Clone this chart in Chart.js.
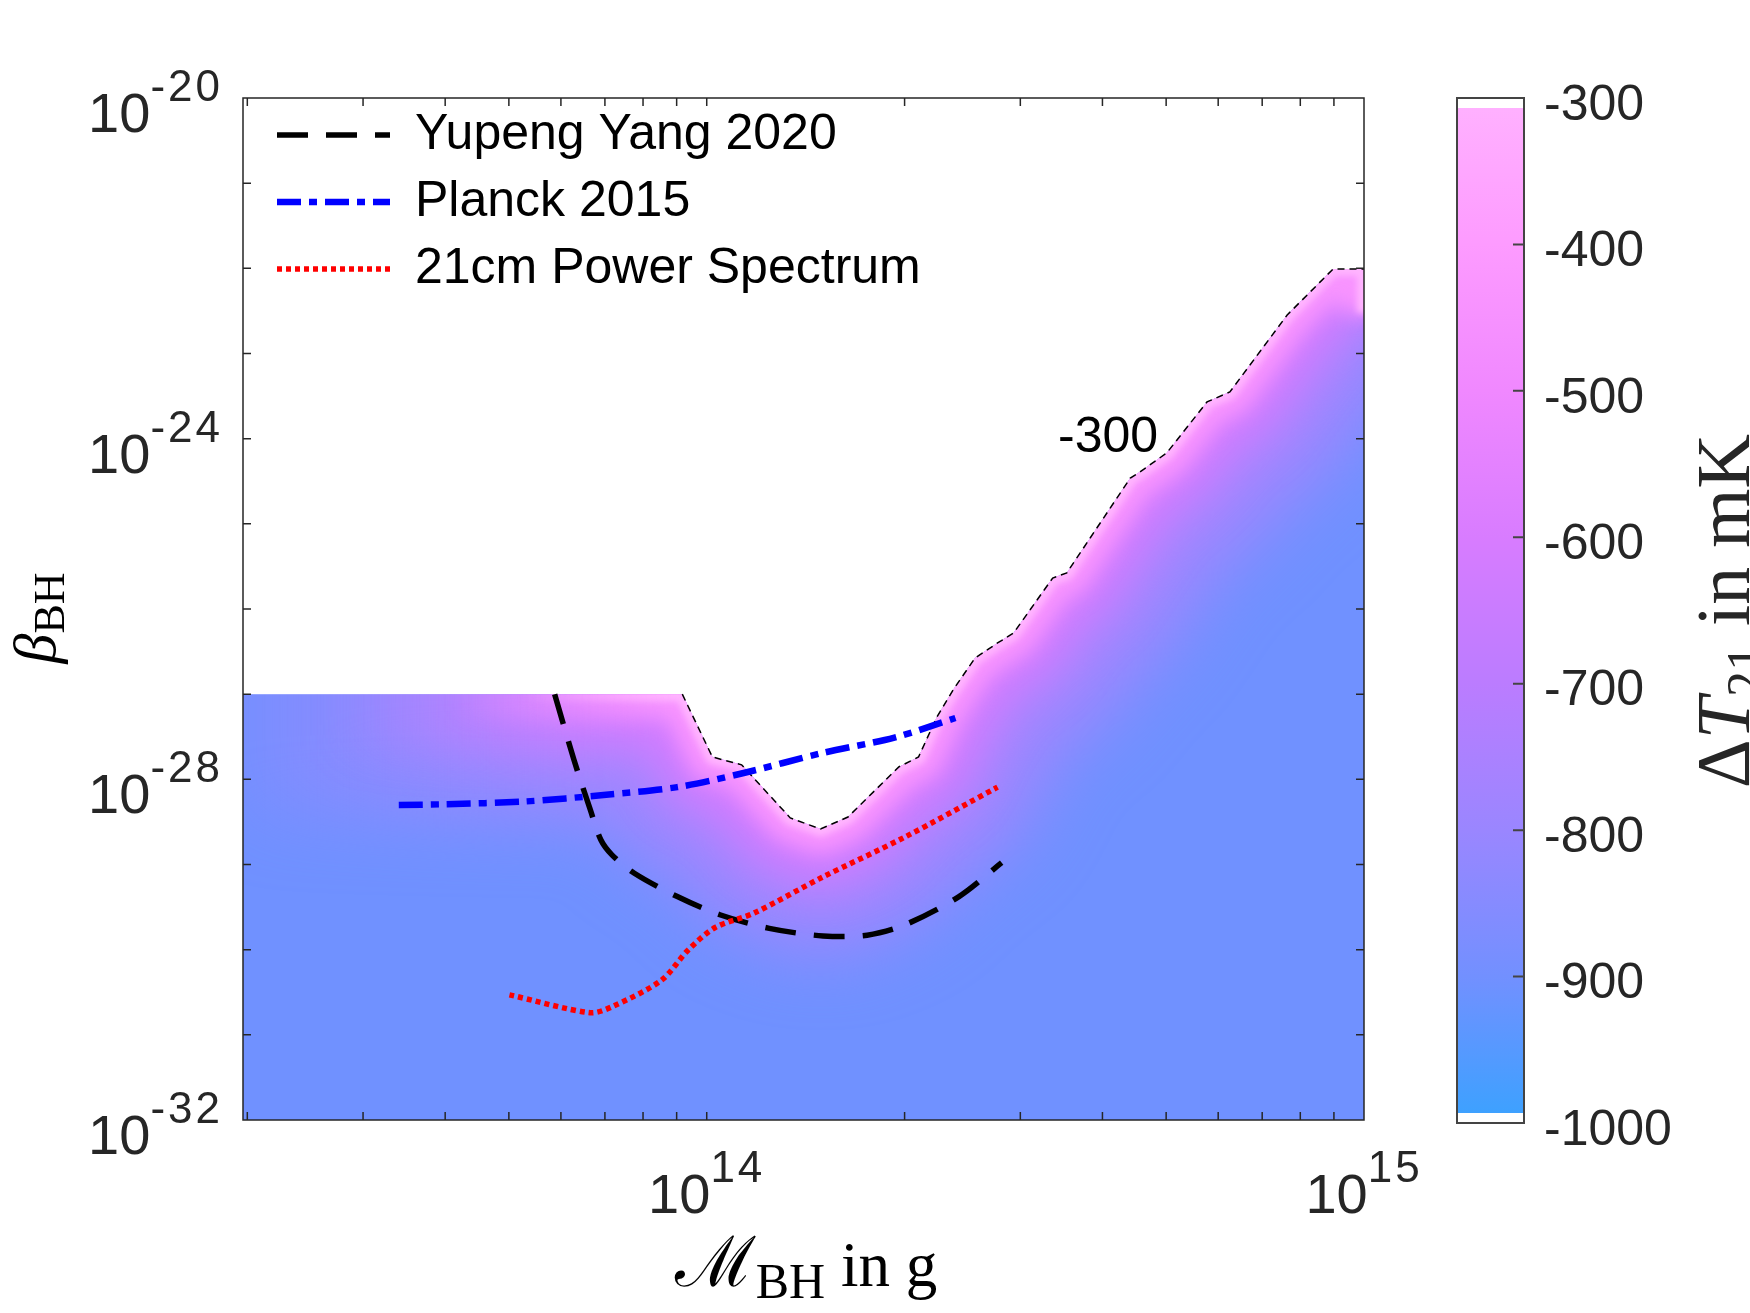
<!DOCTYPE html>
<html>
<head>
<meta charset="utf-8">
<script src="https://cdn.jsdelivr.net/npm/chart.js@4.4.1/dist/chart.umd.min.js"></script>
<style>
  html, body { margin: 0; padding: 0; background: #fff; }
  #wrap { position: relative; width: 1750px; height: 1313px; }
  #wrap canvas { position: absolute; left: 0; top: 0; }
</style>
</head>
<body>
<div id="wrap">
  <canvas id="main" width="1750" height="1313"></canvas>
  <canvas id="cbar" width="1750" height="1313"></canvas>
</div>
<script>
// axis ranges
const massMin = 1.97e13, massMax = 1e15;
const betaMin = 1e-32, betaMax = 1e-20;
const xTickExp = [14, 15];
const yTickExp = [-32, -28, -24, -20];

// edge of the Delta T21 map (flat data edge, then the -300 mK contour)
const edgeMass = [1.97e13, 9.18e13, 1.02e14, 1.13e14, 1.34e14, 1.49e14, 1.64e14, 1.96e14, 2.10e14,
  2.24e14, 2.37e14, 2.56e14, 2.77e14, 2.93e14, 3.36e14, 3.53e14, 4.41e14, 4.56e14, 5.01e14,
  5.77e14, 6.25e14, 7.64e14, 8.97e14, 1e15];
const edgeBeta = [1e-27, 1e-27, 1.83e-28, 1.48e-28, 3.52e-29, 2.61e-29, 3.61e-29, 1.40e-28, 1.83e-28,
  5.40e-28, 1.12e-27, 2.66e-27, 3.99e-27, 5.22e-27, 2.31e-26, 2.65e-26, 3.45e-25, 4.06e-25, 6.79e-25,
  2.70e-24, 3.53e-24, 2.83e-23, 9.8e-23, 9.8e-23];
// the map stays close to -300 mK down the right edge to about here
const rightEdgeWarmTo = 3e-23;
const contourLevel = '-300';
const contourLabelAt = { x: 4.08e14, y: 1.0e-24 };

// constraint curves
const yangMass = [5.87e13, 6.28e13, 6.65e13, 6.90e13, 7.18e13, 7.76e13, 9.02e13, 1.047e14, 1.245e14,
  1.503e14, 1.754e14, 2.00e14, 2.42e14, 2.81e14];
const yangBeta = [1e-27, 1.70e-28, 4.4e-29, 1.95e-29, 1.29e-29, 7.9e-30, 4.2e-30, 2.57e-30, 1.78e-30,
  1.45e-30, 1.48e-30, 1.95e-30, 4.2e-30, 1.05e-29];
const planckMass = [3.40e13, 3.99e13, 5.30e13, 7.03e13, 9.02e13, 1.13e14, 1.50e14, 1.93e14, 2.39e14];
const planckBeta = [5.0e-29, 5.1e-29, 5.5e-29, 6.6e-29, 8.1e-29, 1.17e-28, 2.04e-28, 3.09e-28, 5.25e-28];
const psMass = [5.01e13, 6.65e13, 7.18e13, 8.53e13, 9.38e13, 1.03e14, 1.18e14, 1.50e14, 2.00e14, 2.77e14];
const psBeta = [2.95e-31, 1.82e-31, 2.14e-31, 4.37e-31, 1.0e-30, 1.82e-30, 2.69e-30, 7.1e-30, 2.09e-29, 8.1e-29];

// colour bar
const cbMin = -1000, cbMax = -300;
const cmapValues = [-1000, -900, -800, -700, -600, -500, -400, -300];
const cmapColors = ['#3aa2ff', '#7290ff', '#9a86ff', '#bb7cff', '#d87cff', '#f088ff', '#fd9bff', '#ffb2ff'];

const SANS = '"Liberation Sans", Arial, sans-serif';
const SERIF = '"Liberation Serif", "Times New Roman", serif';
const AXIS = '#262626';

const toXY = (xs, ys) => xs.map((x, i) => ({ x, y: ys[i] }));

// soft colour band inside the map along its upper edge
const glowLayers = [
  { rgb: [165, 133, 255], width: 240, blur: 35, from: 243, to: 560, a0: 0.2 },
  { rgb: [212, 124, 255], width: 110, blur: 22, from: 330, to: 620, a0: 0 },
  { rgb: [248, 148, 255], width: 48, blur: 10, from: 450, to: 670, a0: 0 },
  { rgb: [255, 180, 255], width: 14, blur: 3, from: 520, to: 680, a0: 0 }
];

const heatGlow = {
  id: 'heatGlow',
  afterDatasetDraw(chart, args) {
    if (args.index !== 0) return;
    const { ctx, chartArea: ca, scales: { y } } = chart;
    const pts = args.meta.data;
    const last = pts[pts.length - 1];
    const edge = () => {
      ctx.beginPath();
      pts.forEach((p, i) => i ? ctx.lineTo(p.x, p.y) : ctx.moveTo(p.x, p.y));
    };
    ctx.save();
    edge();
    ctx.lineTo(last.x, ca.bottom);
    ctx.lineTo(pts[0].x, ca.bottom);
    ctx.closePath();
    ctx.clip();
    for (const L of glowLayers) {
      const g = ctx.createLinearGradient(L.from, 0, L.to, 0);
      g.addColorStop(0, `rgba(${L.rgb.join(',')},${L.a0})`);
      g.addColorStop(1, `rgba(${L.rgb.join(',')},1)`);
      ctx.filter = `blur(${L.blur}px)`;
      ctx.strokeStyle = g;
      ctx.lineWidth = L.width;
      ctx.lineJoin = 'round';
      edge();
      ctx.lineTo(last.x, y.getPixelForValue(rightEdgeWarmTo));
      ctx.stroke();
    }
    ctx.restore();
  }
};

// legend sits inside the axes, top left
const legendPlace = {
  id: 'legendPlace',
  afterLayout(chart) {
    const lg = chart.legend;
    const dy = 93 - lg.top;
    lg.top += dy;
    lg.bottom += dy;
    lg.left += 17;
    lg.right += 17;
  }
};

// text made of pieces with their own font and baseline shift
function drawRich(ctx, parts, x, y, rot) {
  ctx.save();
  ctx.translate(x, y);
  if (rot) ctx.rotate(rot);
  ctx.textBaseline = 'alphabetic';
  ctx.textAlign = 'left';
  let total = 0;
  parts.forEach(p => { ctx.font = p.f; p.w = ctx.measureText(p.t).width; total += p.w; });
  let cx = -total / 2;
  parts.forEach(p => {
    ctx.font = p.f;
    ctx.fillText(p.t, cx, p.dy || 0);
    cx += p.w;
  });
  ctx.restore();
}

function drawPow(ctx, exp, x, base, align) {
  const mainF = `56px ${SANS}`, supF = `44px ${SANS}`;
  ctx.save();
  ctx.font = mainF; const w1 = ctx.measureText('10').width;
  ctx.font = supF; ctx.letterSpacing = '3px';
  const w2 = ctx.measureText(String(exp)).width;
  const left = align === 'right' ? x - w1 - w2 : x - (w1 + w2) / 2;
  ctx.textAlign = 'left';
  ctx.textBaseline = 'alphabetic';
  ctx.fillText(String(exp), left + w1, base - 31);
  ctx.letterSpacing = '0px';
  ctx.font = mainF; ctx.fillText('10', left, base);
  ctx.restore();
}

const frame = {
  id: 'frame',
  afterDraw(chart) {
    const { ctx, chartArea: ca, scales: { x, y } } = chart;
    ctx.save();
    ctx.strokeStyle = AXIS;
    ctx.lineWidth = 1.5;
    ctx.strokeRect(ca.left, ca.top, ca.right - ca.left, ca.bottom - ca.top);
    const tl = 8;
    ctx.beginPath();
    for (let e = -31; e <= -21; e++) {
      const py = y.getPixelForValue(Math.pow(10, e));
      ctx.moveTo(ca.left, py); ctx.lineTo(ca.left + tl, py);
      ctx.moveTo(ca.right, py); ctx.lineTo(ca.right - tl, py);
    }
    for (let d = 13; d <= 14; d++) {
      for (let m = 1; m <= 9; m++) {
        const v = m * Math.pow(10, d);
        if (v <= massMin || v >= massMax) continue;
        const px = x.getPixelForValue(v);
        ctx.moveTo(px, ca.bottom); ctx.lineTo(px, ca.bottom - tl);
        ctx.moveTo(px, ca.top); ctx.lineTo(px, ca.top + tl);
      }
    }
    ctx.stroke();

    ctx.fillStyle = AXIS;
    yTickExp.forEach(e => drawPow(ctx, e, ca.left - 20, y.getPixelForValue(Math.pow(10, e)) + 34, 'right'));
    xTickExp.forEach(e => drawPow(ctx, e, x.getPixelForValue(Math.pow(10, e)), 1213, 'center'));

    ctx.fillStyle = '#000';
    ctx.font = `50px ${SANS}`;
    ctx.textAlign = 'center';
    ctx.textBaseline = 'middle';
    ctx.fillText(contourLevel, x.getPixelForValue(contourLabelAt.x), y.getPixelForValue(contourLabelAt.y));

    drawRich(ctx, [
      { t: '\u2133', f: `70px ${SERIF}` },
      { t: 'BH', f: `50px ${SERIF}`, dy: 12 },
      { t: ' in g', f: `63px ${SERIF}` }
    ], 806, 1286, 0);
    drawRich(ctx, [
      { t: '\u03B2', f: `italic 60px ${SERIF}` },
      { t: 'BH', f: `44px ${SERIF}`, dy: 9 }
    ], 55, 618, -Math.PI / 2);
    ctx.restore();
  }
};

new Chart(document.getElementById('main'), {
  type: 'line',
  data: {
    datasets: [
      {
        label: 'map', data: toXY(edgeMass, edgeBeta), order: 10,
        fill: 'start', backgroundColor: '#7091ff', borderWidth: 0, pointRadius: 0, tension: 0
      },
      {
        label: 'contour', data: toXY(edgeMass.slice(1), edgeBeta.slice(1)), order: 9,
        fill: false, borderColor: '#000', borderWidth: 1.5, borderDash: [7, 5], pointRadius: 0, tension: 0
      },
      {
        label: 'Yupeng Yang 2020', data: toXY(yangMass, yangBeta), order: 3,
        borderColor: '#000', backgroundColor: '#000', borderWidth: 5.5, borderDash: [31, 18],
        pointRadius: 0, tension: 0.3, fill: false
      },
      {
        label: 'Planck 2015', data: toXY(planckMass, planckBeta), order: 2,
        borderColor: '#0000ff', backgroundColor: '#0000ff', borderWidth: 6.5, borderDash: [24, 8, 8, 8],
        pointRadius: 0, tension: 0.3, fill: false
      },
      {
        label: '21cm Power Spectrum', data: toXY(psMass, psBeta), order: 1,
        borderColor: '#ff0000', backgroundColor: '#ff0000', borderWidth: 5.5, borderDash: [5, 4],
        pointRadius: 0, tension: 0.3, fill: false
      }
    ]
  },
  options: {
    responsive: false,
    animation: false,
    devicePixelRatio: 1,
    layout: { padding: { left: 243, right: 386, top: 98, bottom: 193 } },
    scales: {
      x: { type: 'logarithmic', min: massMin, max: massMax, display: false },
      y: { type: 'logarithmic', min: betaMin, max: betaMax, display: false }
    },
    plugins: {
      tooltip: { enabled: false },
      legend: {
        position: 'chartArea',
        align: 'start',
        labels: {
          generateLabels: chart => chart.data.datasets.map((ds, i) => ({
            text: ds.label,
            datasetIndex: i,
            strokeStyle: ds.borderColor,
            fillStyle: ds.borderColor,
            lineWidth: ds.borderWidth,
            lineDash: ds.borderDash,
            lineCap: 'butt',
            pointStyle: 'line',
            hidden: false
          })),
          filter: item => item.datasetIndex >= 2,
          sort: (a, b) => a.datasetIndex - b.datasetIndex,
          usePointStyle: true,
          pointStyle: 'line',
          pointStyleWidth: 113,
          padding: 17,
          color: '#000',
          font: { family: SANS, size: 50 }
        }
      }
    }
  },
  plugins: [heatGlow, legendPlace, frame]
});

function cmapGradient(chart) {
  const { ctx, chartArea: ca } = chart;
  if (!ca) return cmapColors[0];
  const g = ctx.createLinearGradient(0, ca.bottom, 0, ca.top);
  cmapValues.forEach((v, i) => g.addColorStop((v - cbMin) / (cbMax - cbMin), cmapColors[i]));
  return g;
}

const cbarFrame = {
  id: 'cbarFrame',
  afterDraw(chart) {
    const { ctx, chartArea: ca, scales: { y } } = chart;
    ctx.save();
    ctx.fillStyle = '#fff';
    ctx.fillRect(ca.left, ca.top, ca.right - ca.left, 10);
    ctx.fillRect(ca.left, ca.bottom - 10, ca.right - ca.left, 10);
    ctx.strokeStyle = '#444';
    ctx.lineWidth = 2;
    ctx.strokeRect(ca.left, ca.top, ca.right - ca.left, ca.bottom - ca.top);
    ctx.beginPath();
    y.ticks.forEach(t => {
      if (t.value <= cbMin || t.value >= cbMax) return;
      const py = y.getPixelForValue(t.value);
      ctx.moveTo(ca.right, py); ctx.lineTo(ca.right - 11, py);
    });
    ctx.stroke();
    ctx.fillStyle = AXIS;
    drawRich(ctx, [
      { t: '\u0394', f: `76px ${SERIF}` },
      { t: 'T', f: `italic 76px ${SERIF}` },
      { t: '21', f: `52px ${SERIF}`, dy: 14 },
      { t: ' in mK', f: `76px ${SERIF}` }
    ], 1749, 611, -Math.PI / 2);
    ctx.restore();
  }
};

new Chart(document.getElementById('cbar'), {
  type: 'bar',
  data: {
    labels: [''],
    datasets: [{
      data: [[cbMin, cbMax]],
      backgroundColor: c => cmapGradient(c.chart),
      borderWidth: 0,
      barPercentage: 1,
      categoryPercentage: 1
    }]
  },
  options: {
    responsive: false,
    animation: false,
    devicePixelRatio: 1,
    layout: { padding: { left: 1457, right: 0, top: 98, bottom: 190 } },
    plugins: { legend: { display: false }, tooltip: { enabled: false } },
    scales: {
      x: { display: false },
      y: {
        position: 'right',
        min: cbMin,
        max: cbMax,
        afterFit: s => { s.width = 226; },
        grid: { display: false, drawTicks: false },
        border: { display: false },
        ticks: {
          stepSize: 100, padding: 20, labelOffset: 8, color: AXIS,
          font: { family: SANS, size: 50 },
          callback: v => String(v)
        }
      }
    }
  },
  plugins: [cbarFrame]
});
</script>
</body>
</html>
